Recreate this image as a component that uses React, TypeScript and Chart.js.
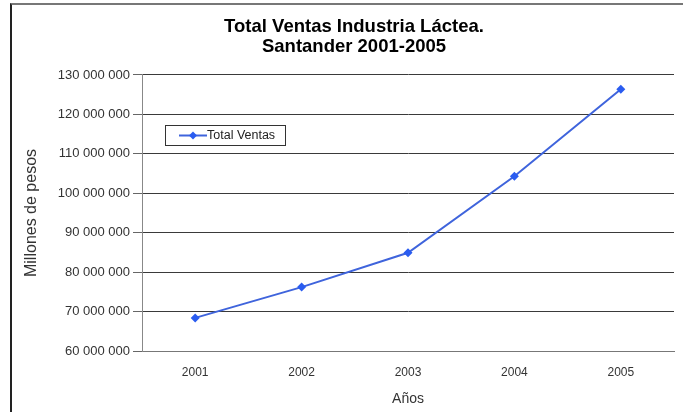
import React, { useEffect, useRef } from "react";
import { Chart, registerables } from "chart.js";

Chart.register(...registerables);

const titleLines = ["Total Ventas Industria Láctea.", "Santander 2001-2005"];
const years = ["2001", "2002", "2003", "2004", "2005"];
const seriesLabel = "Total Ventas";
const totalVentas = [68400000, 76200000, 84900000, 104300000, 126400000];
const yTickValues = [60000000, 70000000, 80000000, 90000000, 100000000, 110000000, 120000000, 130000000];
const yAxisTitle = "Millones de pesos";
const xAxisTitle = "Años";

const fmt = (v: number) => String(Math.round(v)).replace(/\B(?=(\d{3})+(?!\d))/g, " ");

const boxLegend = {
  id: "boxLegend",
  afterDraw(chart: any, _args: any, opts: any) {
    const ctx = chart.ctx;
    const ds = chart.data.datasets[0];
    const { x, y, w, h } = opts;
    ctx.save();
    ctx.fillStyle = "#ffffff";
    ctx.fillRect(x, y, w, h);
    ctx.strokeStyle = "#333333";
    ctx.lineWidth = 1;
    ctx.strokeRect(x + 0.5, y + 0.5, w, h);
    const cy = y + h / 2 + 0.5;
    ctx.strokeStyle = ds.borderColor;
    ctx.lineWidth = 2;
    ctx.beginPath();
    ctx.moveTo(x + 14, cy);
    ctx.lineTo(x + 42, cy);
    ctx.stroke();
    ctx.fillStyle = ds.pointBackgroundColor;
    const mx = x + 28;
    const r = 4;
    ctx.beginPath();
    ctx.moveTo(mx, cy - r);
    ctx.lineTo(mx + r, cy);
    ctx.lineTo(mx, cy + r);
    ctx.lineTo(mx - r, cy);
    ctx.closePath();
    ctx.fill();
    ctx.fillStyle = "#222222";
    ctx.font = "12.5px Arial, 'Liberation Sans', sans-serif";
    ctx.textBaseline = "middle";
    ctx.textAlign = "left";
    ctx.fillText(ds.label, x + 42, cy);
    ctx.restore();
  },
};

export default function App() {
  const ref = useRef<HTMLCanvasElement | null>(null);
  useEffect(() => {
    if (!ref.current) return;
    const chart = new Chart(ref.current, {
      type: "line",
      data: {
        labels: years,
        datasets: [
          {
            label: seriesLabel,
            data: totalVentas,
            borderColor: "#3f64dc",
            backgroundColor: "#2a5cf0",
            pointBackgroundColor: "#2a5cf0",
            pointBorderColor: "#2a5cf0",
            pointStyle: "rectRot",
            pointRadius: 4.5,
            pointBorderWidth: 0,
            borderWidth: 2,
            tension: 0,
          },
        ],
      },
      plugins: [boxLegend],
      options: {
        responsive: false,
        animation: false,
        events: [],
        layout: { padding: { left: 34, right: 26, top: 17, bottom: 1 } },
        plugins: {
          legend: { display: false },
          tooltip: { enabled: false },
          title: {
            display: true,
            text: titleLines,
            color: "#000000",
            font: { family: "Arial, 'Liberation Sans', sans-serif", size: 18.5, weight: "bold", lineHeight: 1.08 },
            padding: { top: 0, bottom: 18 },
          },
          boxLegend: { x: 165, y: 125, w: 120, h: 20 },
        } as any,
        scales: {
          x: {
            offset: true,
            afterFit: (scale: any) => {
              scale.height = 60;
            },
            grid: { display: false, drawTicks: false },
            border: { display: true, color: "#777777", width: 1 },
            ticks: {
              color: "#333333",
              padding: 14,
              font: { family: "Arial, 'Liberation Sans', sans-serif", size: 12 },
            },
            title: {
              display: true,
              text: xAxisTitle,
              color: "#333333",
              font: { family: "Arial, 'Liberation Sans', sans-serif", size: 14 },
              padding: { top: 10, bottom: 3 },
            },
          },
          y: {
            min: 60000000,
            max: 130000000,
            afterBuildTicks: (scale: any) => {
              scale.ticks = yTickValues.map((v) => ({ value: v }));
            },
            afterFit: (scale: any) => {
              scale.width = 108;
            },
            grid: {
              color: "#3a3a3a",
              lineWidth: 1,
              drawTicks: true,
              tickLength: 9,
              tickColor: "#666666",
            },
            border: { display: true, color: "#888888", width: 1 },
            ticks: {
              color: "#333333",
              padding: 3,
              font: { family: "Arial, 'Liberation Sans', sans-serif", size: 13 },
              callback: (v: any) => fmt(Number(v)),
            },
            title: {
              display: true,
              text: yAxisTitle,
              color: "#333333",
              font: { family: "Arial, 'Liberation Sans', sans-serif", size: 16 },
              padding: { top: -11.6, bottom: 0 },
            },
          },
        },
      },
    });
    return () => chart.destroy();
  }, []);

  return (
    <div style={{ position: "fixed", left: 0, top: 0, width: 683, height: 412, overflow: "hidden", background: "#ffffff" }}>
      <canvas ref={ref} width={700} height={412} style={{ position: "absolute", left: 0, top: 0, width: 700, height: 412 }} />
      <div
        style={{
          position: "absolute",
          left: 10,
          top: 3,
          width: 700,
          height: 500,
          borderTop: "2px solid #777777",
          borderLeft: "2px solid #222222",
          pointerEvents: "none",
        }}
      />
    </div>
  );
}
